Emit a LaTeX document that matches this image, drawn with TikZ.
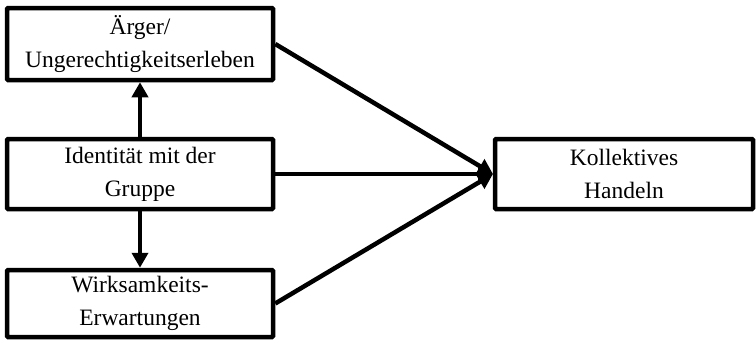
\documentclass[tikz,border=0pt]{standalone}
\usepackage{fontspec}
\setmainfont{Liberation Serif}
\usetikzlibrary{arrows.meta}
\begin{document}
\begin{tikzpicture}[x=1pt,y=-1pt,
  box/.style={draw, line width=4.5pt, rounded corners=1pt, inner sep=0pt, align=center, font=\fontsize{23.5}{33}\selectfont},
  conn/.style={line width=4.5pt, -{Triangle[length=15pt,width=16pt]}}]
\useasboundingbox (0,0) rectangle (756,343);
\node[box, minimum width=266pt, minimum height=72pt] (a) at (140,44) {Ärger/\\Ungerechtigkeitserleben};
\node[box, minimum width=266pt, minimum height=70pt] (i) at (140,174) {Identität mit der\\Gruppe};
\node[box, minimum width=266pt, minimum height=67pt] (w) at (140,303.5) {Wirksamkeits-\\Erwartungen};
\node[box, minimum width=258pt, minimum height=70pt] (k) at (624,174) {Kollektives\\Handeln};
\coordinate (t) at (493,174);
\draw[conn] (i.north) -- (a.south);
\draw[conn] (i.south) -- (w.north);
\draw[conn] (a.east) -- (t);
\draw[conn] (i.east) -- (t);
\draw[conn] (w.east) -- (t);
\end{tikzpicture}
\end{document}
